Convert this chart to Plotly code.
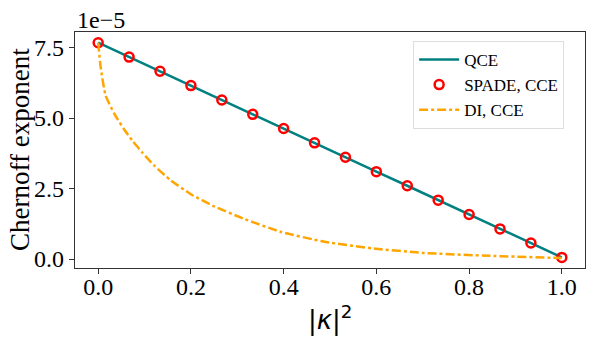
import plotly.graph_objects as go

# ---- data (y values in units of 1e-5) ----
kappa_sq = [0, 1/15, 2/15, 3/15, 4/15, 5/15, 6/15, 7/15, 8/15, 9/15, 10/15,
            11/15, 12/15, 13/15, 14/15, 1.0]
qce_e5 = [7.67, 7.16, 6.66, 6.15, 5.64, 5.13, 4.63, 4.12, 3.61, 3.10, 2.60,
          2.09, 1.58, 1.07, 0.57, 0.06]
spade_e5 = [7.67, 7.16, 6.66, 6.15, 5.64, 5.13, 4.63, 4.12, 3.61, 3.10, 2.60,
            2.09, 1.58, 1.07, 0.57, 0.06]
di_x = [0, 0.005, 0.016, 0.035, 0.055, 0.075, 0.095, 0.12, 0.156, 0.2, 0.25,
        0.314, 0.393, 0.486, 0.594, 0.7, 0.845, 1.0]
di_e5 = [7.67, 6.85, 5.80, 5.15, 4.62, 4.17, 3.78, 3.33, 2.80, 2.30, 1.87,
         1.43, 0.97, 0.62, 0.376, 0.22, 0.116, 0.035]
y_ticks = [0.0, 2.5, 5.0, 7.5]
x_ticks = [0.0, 0.2, 0.4, 0.6, 0.8, 1.0]

SERIF = "Liberation Serif"

fig = go.Figure()
fig.add_trace(go.Scatter(x=kappa_sq, y=qce_e5, mode="lines", name="QCE",
                         line=dict(color="#008080", width=2.5)))
fig.add_trace(go.Scatter(x=kappa_sq, y=spade_e5, mode="markers", name="SPADE, CCE",
                         marker=dict(symbol="circle-open", color="red", size=9,
                                     line=dict(width=2.5, color="red"))))
fig.add_trace(go.Scatter(x=di_x, y=di_e5, mode="lines", name="DI, CCE",
                         line=dict(color="#FFA500", width=2.5, dash="dashdot",
                                   shape="spline", smoothing=0.5)))

axis_common = dict(showline=True, linecolor="#333", linewidth=1.2, mirror=True,
                   ticks="outside", ticklen=5, tickwidth=1.2, tickcolor="#333",
                   showgrid=False, zeroline=False, automargin=False,
                   tickfont=dict(family=SERIF, size=24, color="black"))

# the page body adds an 8px offset; margins compensate so the plot area sits
# at x 75..585, y 32..268 in the window
fig.update_layout(
    width=598, height=337,
    margin=dict(l=67, r=21, t=24, b=77),
    paper_bgcolor="white", plot_bgcolor="white",
    xaxis=dict(range=[-0.05, 1.05], tickvals=x_ticks, ticklabelstandoff=-8,
               ticktext=[f"{v:.1f}" for v in x_ticks], **axis_common),
    yaxis=dict(range=[-0.316, 8.05], tickvals=y_ticks,
               ticktext=[f"{v:.1f}" for v in y_ticks], **axis_common),
    legend=dict(x=0.663, y=0.962, xanchor="left", yanchor="top",
                bgcolor="rgba(255,255,255,0.8)", bordercolor="#dddddd", borderwidth=1,
                font=dict(family=SERIF, size=17, color="black"),
                tracegroupgap=0, itemwidth=40),
    showlegend=True,
    annotations=[
        dict(text="1e\u22125", x=0, y=1, xref="paper", yref="paper",
             xanchor="left", yanchor="bottom", showarrow=False, yshift=-3,
             font=dict(family=SERIF, size=24, color="black")),
        dict(text="Chernoff exponent", x=0, y=0.5, xref="paper", yref="paper",
             xanchor="center", yanchor="middle", textangle=-90, xshift=-55,
             showarrow=False, font=dict(family=SERIF, size=27, color="black")),
        dict(text="|<i>κ</i>|<sup>2</sup>", x=0.5, y=0, xref="paper", yref="paper",
             xanchor="center", yanchor="middle", yshift=-50, showarrow=False,
             font=dict(family="DejaVu Sans", size=26, color="black")),
    ],
)

fig.write_html("out.html")
